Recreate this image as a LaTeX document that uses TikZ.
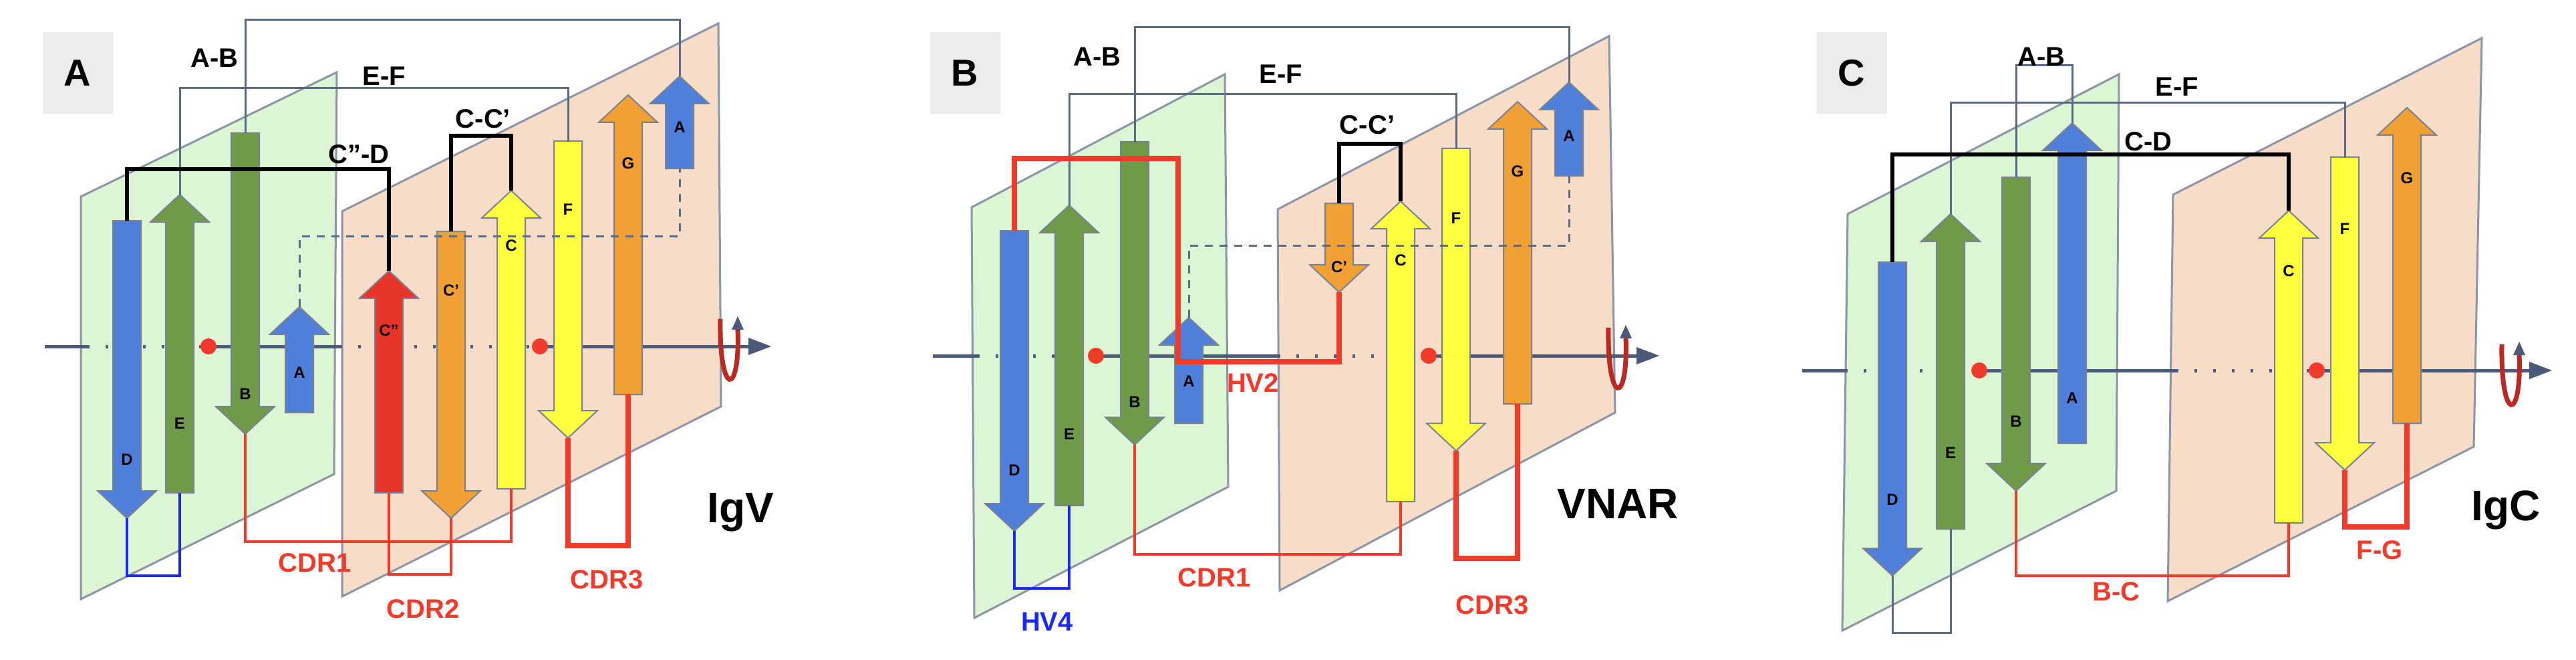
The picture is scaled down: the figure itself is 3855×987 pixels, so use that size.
\documentclass[tikz,border=0pt]{standalone}
\usepackage{fontspec}
\setmainfont{Liberation Sans}
\begin{document}
\begin{tikzpicture}[x=1pt,y=-1pt,
  plane/.style={draw=planeline,line width=3pt},
  gline/.style={draw=gconn,line width=3pt},
  kline/.style={draw=black,line width=6pt},
  rthin/.style={draw=cdr,line width=4pt},
  rthick/.style={draw=cdr,line width=8pt},
  bline/.style={draw=hvblue,line width=4pt},
  dline/.style={draw=gconn,line width=3pt,dash pattern=on 12pt off 10pt},
  lab/.style={font=\fontsize{40}{44}\selectfont\bfseries},
  slab/.style={font=\fontsize{24}{26}\selectfont\bfseries},
  big/.style={font=\fontsize{64}{68}\selectfont\bfseries},
  pan/.style={fill=panelgray,font=\fontsize{56}{60}\selectfont\bfseries,minimum width=105pt,minimum height=122pt}]
\definecolor{planeline}{HTML}{8A96A8}
\definecolor{gconn}{HTML}{5A6A80}
\definecolor{cdr}{HTML}{F03A2A}
\definecolor{hvblue}{HTML}{1A2AF0}
\definecolor{axc}{HTML}{4A5A78}
\definecolor{gplane}{HTML}{DCF5D4}
\definecolor{pplane}{HTML}{F7DCC8}
\definecolor{panelgray}{HTML}{EBEBEB}
\definecolor{sblue}{HTML}{4F7FDA}
\definecolor{sgreen}{HTML}{6E9A4A}
\definecolor{sred}{HTML}{E8352A}
\definecolor{sorange}{HTML}{F0A035}
\definecolor{syellow}{HTML}{FFFF40}
\definecolor{sline}{HTML}{7A8290}
\newcommand{\strandup}[7]{%
  \fill[#5,draw=sline,line width=2pt] (#2,#3) -- (#2+44,#3+41) -- (#2+21,#3+41) -- (#2+21,#4) -- (#2-21,#4) -- (#2-21,#3+41) -- (#2-44,#3+41) -- cycle;
  \coordinate (#1-t) at (#2,#3); \coordinate (#1-b) at (#2,#4);
  \node[slab] (#1-l) at (#2,#7) {#6};}
\newcommand{\stranddn}[7]{%
  \fill[#5,draw=sline,line width=2pt] (#2,#4) -- (#2+44,#4-41) -- (#2+21,#4-41) -- (#2+21,#3) -- (#2-21,#3) -- (#2-21,#4-41) -- (#2-44,#4-41) -- cycle;
  \coordinate (#1-t) at (#2,#3); \coordinate (#1-b) at (#2,#4);
  \node[slab] (#1-l) at (#2,#7) {#6};}
\newcommand{\myaxis}[7]{%
  \draw[axc,line width=5pt] (#1,#7) -- (#2,#7);
  \draw[axc,line width=5pt,dash pattern=on 4pt off 24pt] (#2,#7) -- (#3,#7);
  \draw[axc,line width=5pt] (#3,#7) -- (#4,#7);
  \draw[axc,line width=5pt,dash pattern=on 4pt off 24pt] (#4,#7) -- (#5,#7);
  \draw[axc,line width=5pt] (#5,#7) -- (#6-30,#7);
  \fill[axc] (#6,#7) -- (#6-34,#7-13) -- (#6-34,#7+13) -- cycle;
  \fill[cdr] (#3,#7) circle (12);
  \fill[cdr] (#5,#7) circle (12);}
\newcommand{\rot}[2]{%
  \draw[sred!80!black,line width=7pt] (#1-14,#2-48) .. controls (#1-16,#2+70) and (#1+16,#2+70) .. (#1+12,#2-34);
  \fill[axc] (#1+12,#2-52) -- (#1+3,#2-32) -- (#1+21,#2-32) -- cycle;}
\useasboundingbox (0,0) rectangle (3855,987);
\fill[white] (0,0) rectangle (3855,987);

%%%%%%%%%%%%%% PANEL A
\node[pan] (pA) at (116,109) {A};
\fill[gplane,plane] (121,294) -- (504,108) -- (500,709) -- (121,896) -- cycle;
\fill[pplane,plane] (512,316) -- (1075,35) -- (1079,608) -- (512,892) -- cycle;
\myaxis{67}{130}{312}{508}{808}{1154}{518}
\rot{1092}{525}
\stranddn{aD}{190}{330}{775}{sblue}{D}{687}
\strandup{aE}{269}{291}{737}{sgreen}{E}{633}
\stranddn{aB}{367}{199}{649}{sgreen}{B}{589}
\strandup{aA}{448}{459}{617}{sblue}{A}{557}
\strandup{aCC}{582}{405}{737}{sred}{C''}{494}
\stranddn{aCp}{675}{346}{775}{sorange}{C'}{434}
\strandup{aC}{765}{285}{731}{syellow}{C}{367}
\stranddn{aF}{850}{211}{655}{syellow}{F}{313}
\strandup{aG}{940}{142}{590}{sorange}{G}{244}
\strandup{aA2}{1017}{114}{252}{sblue}{A}{190}
\draw[gline] (aB-t) |- (700,30) -| (aA2-t);
\draw[gline] (aE-t) |- (600,132) -| (aF-t);
\draw[kline] (aD-t) |- (400,253) -| (aCC-t);
\draw[kline] (aCp-t) |- (720,203) -| (aC-t);
\draw[dline] (aA-t) |- (700,353) -| (aA2-b);
\draw[bline] (aD-b) |- (230,861) -| (aE-b);
\draw[rthin] (aB-b) |- (600,810) -| (aC-b);
\draw[rthin] (aCC-b) |- (630,859) -| (aCp-b);
\draw[rthick] (aF-b) |- (900,816) -| (aG-b);
\node[lab] (tAB) at (321,87) {A-B};
\node[lab] (tEF) at (575,114) {E-F};
\node[lab] (tCD) at (537,231) {C''-D};
\node[lab] (tCC) at (723,178) {C-C'};
\node[lab,text=cdr] (tc1) at (471,842) {CDR1};
\node[lab,text=cdr] (tc2) at (633,911) {CDR2};
\node[lab,text=cdr] (tc3) at (908,867) {CDR3};
\node[big] (tIgV) at (1108,766) {IgV};

%%%%%%%%%%%%%% PANEL B
\node[pan] (pB) at (1444,109) {B};
\fill[gplane,plane] (1454,310) -- (1833,111) -- (1838,728) -- (1458,924) -- cycle;
\fill[pplane,plane] (1912,313) -- (2408,54) -- (2417,617) -- (1915,883) -- cycle;
\myaxis{1396}{1462}{1640}{1912}{2138}{2483}{532}
\rot{2421}{538}
\stranddn{bD}{1518}{345}{794}{sblue}{D}{703}
\strandup{bE}{1600}{307}{756}{sgreen}{E}{649}
\stranddn{bB}{1698}{212}{665}{sgreen}{B}{601}
\strandup{bA}{1779}{475}{633}{sblue}{A}{570}
\stranddn{bCp}{2004}{304}{437}{sorange}{C'}{399}
\strandup{bC}{2096}{301}{750}{syellow}{C}{389}
\stranddn{bF}{2179}{222}{674}{syellow}{F}{326}
\strandup{bG}{2271}{152}{604}{sorange}{G}{256}
\strandup{bA2}{2348}{123}{263}{sblue}{A}{203}
\draw[gline] (bB-t) |- (2000,41) -| (bA2-t);
\draw[gline] (bE-t) |- (1900,141) -| (bF-t);
\draw[kline] (bCp-t) |- (2050,215) -| (bC-t);
\draw[dline] (bA-t) |- (2000,367) -| (bA2-b);
\draw[rthick] (bD-t) |- (1640,237) -- (1763,237) -- (1763,541) -- (2004,541) -- (bCp-b);
\draw[bline] (bD-b) |- (1560,880) -| (bE-b);
\draw[rthin] (bB-b) |- (1900,829) -| (bC-b);
\draw[rthick] (bF-b) |- (2220,835) -| (bG-b);
\node[lab] (uAB) at (1642,85) {A-B};
\node[lab] (uEF) at (1917,111) {E-F};
\node[lab] (uCC) at (2046,187) {C-C'};
\node[lab,text=cdr] (uHV2) at (1875,573) {HV2};
\node[lab,text=cdr] (uc1) at (1817,864) {CDR1};
\node[lab,text=hvblue] (uHV4) at (1567,930) {HV4};
\node[lab,text=cdr] (uc3) at (2233,905) {CDR3};
\node[big] (tV) at (2421,753) {VNAR};

%%%%%%%%%%%%%% PANEL C
\node[pan] (pC) at (2771,109) {C};
\fill[gplane,plane] (2765,320) -- (3171,111) -- (3167,734) -- (2757,943) -- cycle;
\fill[pplane,plane] (3252,291) -- (3714,57) -- (3702,668) -- (3244,899) -- cycle;
\myaxis{2697}{2761}{2962}{3256}{3467}{3819}{554}
\rot{3758}{563}
\stranddn{cD}{2832}{392}{861}{sblue}{D}{747}
\strandup{cE}{2919}{320}{791}{sgreen}{E}{677}
\stranddn{cB}{3017}{265}{734}{sgreen}{B}{630}
\strandup{cA}{3101}{184}{663}{sblue}{A}{595}
\strandup{cC}{3425}{315}{782}{syellow}{C}{405}
\stranddn{cF}{3509}{235}{703}{syellow}{F}{342}
\strandup{cG}{3602}{161}{633}{sorange}{G}{266}
\draw[gline] (cB-t) |- (3060,98) -| (cA-t);
\draw[gline] (cE-t) |- (3200,154) -| (cF-t);
\draw[kline] (cD-t) |- (3100,231) -| (cC-t);
\draw[gline] (cD-b) |- (2870,946) -| (cE-b);
\draw[rthin] (cB-b) |- (3200,861) -| (cC-b);
\draw[rthick] (cF-b) |- (3550,788) -| (cG-b);
\node[lab] (vAB) at (3055,85) {A-B};
\node[lab] (vEF) at (3258,130) {E-F};
\node[lab] (vCD) at (3215,212) {C-D};
\node[lab,text=cdr] (vBC) at (3167,885) {B-C};
\node[lab,text=cdr] (vFG) at (3561,823) {F-G};
\node[big] (tIgC) at (3750,763) {IgC};
\end{tikzpicture}
\end{document}
